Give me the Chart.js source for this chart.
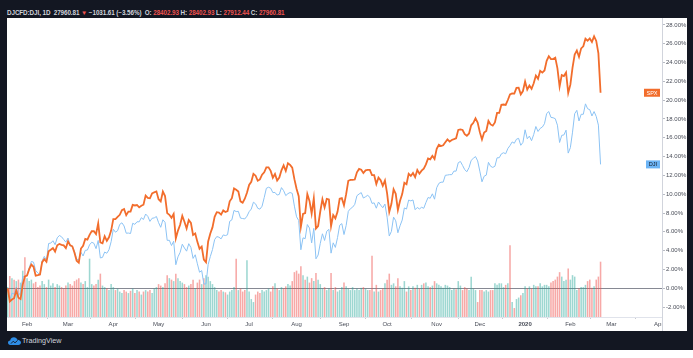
<!DOCTYPE html>
<html>
<head>
<meta charset="utf-8">
<script src="https://cdn.jsdelivr.net/npm/chart.js@4.4.1/dist/chart.umd.min.js"></script>
<style>
  html, body { margin: 0; padding: 0; background: #fff; }
  #frame { position: absolute; left: 0; top: 0; width: 693px; height: 350px; background: #131722; }
  #header { position: absolute; left: 7px; top: 8px; font: bold 6.3px "Liberation Sans", sans-serif; letter-spacing: -0.08px; line-height: 9px; color: #d1d4dc; white-space: nowrap; }
  #header .dn { color: #ef5350; }
  #panel { position: absolute; left: 7px; top: 18px; width: 680px; height: 313px; background: #fff; }
  #footer { position: absolute; left: 8px; top: 336px; height: 10px; color: #d1d4dc; font: 7.2px "Liberation Sans", sans-serif; line-height: 10px; }
  #footer svg { position: absolute; left: 0; top: 1px; }
  #footer span { position: absolute; left: 14px; top: 0; white-space: nowrap; }
</style>
</head>
<body>
<div id="frame">
  <div id="header">DJCFD:DJI, 1D&nbsp; 27960.81 <span class="dn">▼</span> −1031.61 (−3.56%)&nbsp; O: <span class="dn">28402.93</span> H: <span class="dn">28402.93</span> L: <span class="dn">27912.44</span> C: <span class="dn">27960.81</span></div>
  <div id="panel"><canvas id="chart" width="680" height="313"></canvas></div>
  <div id="footer">
    <svg width="13" height="8" viewBox="0 0 13 8"><path d="M2.5 8 C0.8 8 0 6.8 0 5.6 C0 4.3 1 3.4 2.2 3.4 C2.6 1.5 4.1 0.3 5.9 0.3 C7.6 0.3 8.9 1.3 9.4 2.8 C11.4 2.8 13 4.2 13 5.6 C13 7 11.8 8 10.4 8 Z" fill="#2e8de6"/><path d="M3 6.6 L5.2 4.2 L7 5.8 L9.6 3.4" stroke="#131722" stroke-width="0.9" fill="none"/></svg>
    <span>TradingView</span>
  </div>
</div>
<script>
// trading sessions from 18 Jan 2019 (compare base, 0%) to 24 Feb 2020
// change versus the base close, in percent
const spxPct = [
  0, -1.41, -1.20, -1.06, -0.22, -1.00, -1.15, 0.39, 1.25,
  1.34, 2.03, 2.51, 2.28, 1.33, 1.39, 1.46, 2.77, 3.08, 2.81, 3.93, 4.09, 4.27, 3.90, 4.57, 4.70, 4.61, 4.56, 4.26,
  4.98, 4.57, 4.46, 3.77, 2.93, 2.71, 4.22, 4.52, 5.25, 5.16, 5.68, 6.07, 6.06, 5.75, 6.90, 4.87, 4.78, 5.53, 5.04, 5.42, 6.13,
  7.36, 7.36, 7.59, 7.81, 8.31, 8.43, 7.77, 8.15, 8.15, 8.86, 8.80, 8.85, 8.60, 8.77, 8.88, 9.85, 9.61, 9.57, 10.08, 10.20, 10.30,
  9.47, 9.24, 10.29, 9.80, 7.99, 7.81, 7.49, 7.89, 5.29, 6.13, 6.75, 7.70, 7.07, 6.35, 7.25, 6.95, 5.67, 5.82, 4.93, 4.20, 4.43, 3.05,
  2.76, 4.97, 5.82, 6.47, 7.59, 8.09, 8.05, 7.83, 8.27, 8.10, 8.20, 9.25, 9.58, 10.61, 10.48, 10.29, 9.24, 9.10, 9.52, 10.15,
  10.99, 11.32, 12.17, 11.97, 11.43, 11.57, 12.07, 12.33, 12.85, 12.86, 12.48, 11.75, 12.15, 11.45, 11.77, 12.54, 13.06, 12.47, 13.30, 13.12, 12.82, 11.60,
  10.59, 9.79, 6.52, 7.90, 7.99, 10.01, 9.29, 7.94, 9.57, 6.36, 6.62, 8.16, 9.47, 8.60, 9.50, 9.44, 6.60, 7.78, 7.43, 8.13, 9.51, 9.58,
  8.82, 10.00, 11.43, 11.53, 11.52, 11.56, 12.33, 12.69, 12.61, 12.25, 12.54, 12.58, 12.58, 12.03, 12.02, 11.08, 11.76, 11.49, 10.90, 11.46,
  10.09, 8.12, 8.98, 10.53, 10.04, 8.33, 9.31, 10.01, 11.22, 11.06, 12.17, 11.94, 12.25, 11.81, 12.58, 12.18, 12.50, 12.72, 13.17, 13.80, 13.71, 14.08, 13.74,
  14.83, 15.26, 15.12, 15.21, 15.52, 15.82, 15.59, 15.77, 15.85, 15.95, 16.84, 16.90, 16.83, 16.39, 16.21, 16.46, 17.33, 17.59, 18.08, 17.61,
  16.60, 15.82, 16.56, 16.73, 17.79, 17.42, 17.29, 17.63, 18.64, 18.65, 19.50, 19.54, 19.49, 20.02, 20.61, 20.72, 20.70, 21.31, 21.32, 20.62, 20.97,
  21.98, 21.12, 21.55, 21.21, 21.80, 22.62, 22.27, 23.12, 22.93, 23.16, 24.19, 24.67, 24.38, 24.37, 24.52, 23.39, 21.45, 22.67, 22.57, 22.95, 20.77,
  21.65, 23.47, 24.86, 25.28, 24.60, 25.51, 25.73, 26.54, 26.33, 26.57, 26.20, 26.79, 26.30, 24.98, 20.79
];
const djiPct = [
  0, -1.22, -0.53, -0.62, 0.12, -0.72, -0.51, 1.25, 1.19,
  1.45, 2.16, 2.85, 2.77, 1.87, 1.62, 1.40, 2.91, 3.39, 2.97, 4.76, 4.80, 5.05, 4.63, 5.36, 5.61, 5.47, 5.18, 4.90,
  5.34, 4.51, 4.45, 3.91, 3.10, 3.01, 3.82, 3.43, 4.03, 4.06, 4.62, 4.89, 4.78, 4.21, 5.08, 3.22, 3.28, 3.85, 3.72, 4.09, 4.95,
  6.28, 5.96, 6.12, 6.79, 6.96, 6.62, 5.85, 5.87, 5.82, 6.91, 6.79, 7.07, 7.06, 7.50, 7.31, 7.89, 7.65, 7.11, 7.44, 7.48, 7.63,
  6.98, 6.48, 7.28, 7.01, 5.09, 5.10, 4.54, 5.00, 2.50, 3.34, 3.81, 4.68, 4.28, 3.94, 4.74, 4.33, 3.17, 3.56, 2.60, 1.70, 1.88, 0.44,
  0.46, 2.53, 3.37, 4.11, 5.17, 5.49, 5.43, 5.25, 5.67, 5.60, 5.69, 7.12, 7.27, 8.28, 8.15, 8.18, 7.46, 7.41, 7.37, 7.66,
  8.14, 8.42, 9.15, 8.97, 8.50, 8.41, 8.72, 9.64, 10.63, 10.74, 10.64, 10.17, 10.19, 9.91, 9.98, 10.70, 10.38, 9.85, 10.06, 10.18, 10.09, 8.73,
  7.60, 7.20, 4.09, 5.36, 5.27, 6.77, 6.40, 4.82, 6.37, 3.13, 3.53, 4.77, 5.79, 5.08, 6.06, 6.26, 3.73, 4.83, 4.34, 5.38, 6.70, 6.87,
  5.71, 6.67, 8.18, 8.46, 8.62, 8.92, 9.84, 10.02, 10.17, 9.59, 9.73, 9.88, 9.67, 9.02, 9.08, 8.51, 9.17, 8.84, 8.56, 8.95,
  7.56, 5.55, 6.05, 7.56, 7.17, 5.90, 6.64, 7.25, 8.54, 8.42, 9.38, 9.29, 9.39, 8.35, 8.59, 8.43, 8.61, 8.50, 9.11, 9.65, 9.57, 10.04, 9.47,
  10.69, 11.15, 11.28, 11.28, 12.01, 12.04, 12.08, 12.08, 12.46, 12.45, 13.35, 13.48, 13.06, 12.61, 12.39, 12.83, 13.60, 13.82, 14.00, 13.54,
  12.45, 11.32, 11.91, 12.03, 13.39, 12.97, 12.85, 12.97, 13.87, 13.88, 14.29, 14.41, 14.30, 14.86, 15.17, 15.56, 15.42, 15.85, 15.94, 15.20, 15.51,
  16.85, 15.90, 16.18, 15.69, 16.35, 17.20, 16.67, 17.00, 17.14, 17.50, 18.58, 18.79, 18.17, 18.13, 18.03, 17.34, 15.50, 16.26, 16.30, 16.81, 14.37,
  14.95, 16.60, 18.56, 18.92, 17.79, 18.50, 18.50, 19.61, 19.09, 18.99, 18.32, 18.79, 18.27, 17.35, 13.17
];
// volume of the main symbol (relative units)
const volume = [
  40, 55, 52, 50, 48, 50, 46, 62, 80,
  52, 48, 50, 45, 47, 40, 42, 48, 44, 40, 50, 42, 45, 40, 44, 42, 40, 38, 42,
  46, 44, 42, 48, 50, 52, 46, 44, 48, 40, 78, 44, 42, 44, 50, 58, 42, 40, 38, 36, 44,
  40, 36, 38, 34, 32, 36, 34, 32, 35, 38, 32, 36, 34, 30, 34, 36, 34, 36, 32, 38, 40,
  44, 42, 40, 45, 56, 52, 50, 48, 58, 52, 48, 46, 44, 40, 42, 44, 50, 38, 46, 50, 44, 52,
  56, 54, 48, 44, 40, 36, 34, 36, 34, 33, 30, 34, 36, 40, 78, 36, 38, 34, 36, 76,
  34, 24, 20, 30, 34, 32, 36, 34, 36, 38, 34, 41, 45, 38, 36, 40, 38, 41, 44, 42, 48, 60,
  62, 58, 68, 56, 50, 54, 46, 52, 48, 59, 50, 44, 38, 40, 36, 38, 59, 36, 40, 34, 36, 40,
  46, 41, 38, 36, 40, 36, 38, 36, 39, 40, 38, 36, 36, 82, 34, 43, 34, 36, 38, 45,
  50, 58, 43, 45, 41, 52, 41, 39, 48, 34, 41, 36, 41, 39, 43, 38, 43, 45, 46, 41, 40, 42, 48,
  45, 43, 41, 39, 43, 42, 40, 36, 38, 37, 48, 42, 36, 40, 38, 36, 54, 38, 36, 20,
  36, 36, 34, 36, 34, 36, 36, 45, 43, 45, 45, 40, 43, 45, 96, 20, 12, 24, 26, 29, 32,
  41, 38, 41, 38, 43, 41, 41, 45, 41, 43, 43, 41, 46, 48, 50, 54, 60, 54, 48, 50, 65,
  50, 56, 54, 36, 38, 40, 40, 43, 48, 50, 39, 41, 50, 54, 74
];
// sessions whose volume bar is drawn red although the close was up (closed below its open)
const redOnUpClose = [233];

// session index of the first session of each month, and its label
const monthTicks = [9, 28, 49, 70, 92, 112, 134, 156, 176, 199, 219, 240, 261, 280, 302];
const monthLabels = ['Feb', 'Mar', 'Apr', 'May', 'Jun', 'Jul', 'Aug', 'Sep', 'Oct', 'Nov', 'Dec', '2020', 'Feb', 'Mar', 'Apr'];
const priceTicks = [-2, 0, 2, 4, 6, 8, 10, 12, 14, 16, 18, 20, 22, 24, 26, 28];

const spxColor = '#f26d2c';
const djiColor = '#8cc3f4';
const upVol = 'rgba(38,166,154,0.45)';
const downVol = 'rgba(239,83,80,0.5)';

const volColors = volume.map((v, i) => {
  const up = i === 0 || djiPct[i] >= djiPct[i - 1];
  return (up && !redOnUpClose.includes(i)) ? upVol : downVol;
});

// last-value tags next to the price scale, and clipping of the time labels
const lastTags = {
  id: 'lastTags',
  afterDraw(chart) {
    const ctx = chart.ctx;
    const area = chart.chartArea;
    const y = chart.scales.y;
    ctx.save();
    ctx.fillStyle = '#fff';
    ctx.fillRect(area.right + 0.5, area.bottom + 0.5, chart.width - area.right, chart.height - area.bottom);
    ctx.strokeStyle = '#d1d4dc';
    ctx.lineWidth = 1;
    ctx.beginPath();
    ctx.moveTo(area.right + 0.5, 0);
    ctx.lineTo(area.right + 0.5, chart.height);
    ctx.stroke();

    const tags = [
      { text: 'SPX', value: spxPct[spxPct.length - 1], bg: spxColor, fg: '#fff', w: 16 },
      { text: 'DJI', value: djiPct[djiPct.length - 1], bg: '#6cb4f5', fg: '#131722', w: 14 }
    ];
    ctx.font = '5.6px "Liberation Sans", sans-serif';
    ctx.textAlign = 'center';
    ctx.textBaseline = 'middle';
    tags.forEach(t => {
      const py = y.getPixelForValue(t.value);
      const x1 = area.right - 2;
      ctx.fillStyle = t.bg;
      ctx.fillRect(x1 - t.w, py - 4, t.w, 8);
      ctx.fillStyle = t.fg;
      ctx.fillText(t.text, x1 - t.w / 2, py + 0.5);
    });
    ctx.restore();
  }
};

Chart.defaults.font.family = '"Liberation Sans", sans-serif';
Chart.defaults.font.size = 6;

new Chart(document.getElementById('chart'), {
  type: 'line',
  data: {
    datasets: [
      {
        type: 'line',
        label: 'SPX',
        data: spxPct.map((v, i) => ({ x: i, y: v })),
        borderColor: spxColor,
        borderWidth: 1.8,
        pointRadius: 0,
        tension: 0,
        yAxisID: 'y',
        order: 1
      },
      {
        type: 'line',
        label: 'DJI',
        data: djiPct.map((v, i) => ({ x: i, y: v })),
        borderColor: djiColor,
        borderWidth: 1,
        pointRadius: 0,
        tension: 0,
        yAxisID: 'y',
        order: 2
      },
      {
        type: 'bar',
        label: 'Volume',
        data: volume.map((v, i) => ({ x: i, y: v })),
        backgroundColor: volColors,
        borderWidth: 0,
        barPercentage: 1,
        categoryPercentage: 0.72,
        yAxisID: 'yv',
        order: 3
      }
    ]
  },
  options: {
    responsive: false,
    animation: false,
    devicePixelRatio: 1,
    layout: { padding: 0 },
    plugins: { legend: { display: false }, tooltip: { enabled: false } },
    scales: {
      x: {
        type: 'linear',
        min: -0.3,
        max: 303.5,
        offset: false,
        afterBuildTicks: scale => { scale.ticks = monthTicks.map(v => ({ value: v })); },
        afterFit: scale => { scale.height = 14; scale.paddingLeft = 0; scale.paddingRight = 0; },
        grid: { drawOnChartArea: false, tickLength: 2, tickColor: '#c8cad0' },
        border: { color: '#e0e3eb' },
        ticks: {
          autoSkip: false,
          maxRotation: 0,
          padding: 2,
          color: '#4a4e59',
          font: ctx => ({ size: 6, weight: ctx.tick && ctx.tick.label === '2020' ? 'bold' : 'normal' }),
          callback: (v, i) => monthLabels[i]
        }
      },
      y: {
        type: 'linear',
        position: 'right',
        min: -3.06,
        max: 28.74,
        z: 1,
        afterBuildTicks: scale => { scale.ticks = priceTicks.map(v => ({ value: v })); },
        afterFit: scale => { scale.width = 25; scale.paddingTop = 0; scale.paddingBottom = 0; },
        grid: {
          drawOnChartArea: true,
          color: ctx => (ctx.tick && ctx.tick.value === 0) ? '#868993' : 'rgba(0,0,0,0)',
          tickLength: 3,
          tickColor: '#b8bbc3'
        },
        border: { color: '#d1d4dc' },
        ticks: {
          padding: 1,
          color: '#4a4e59',
          callback: v => v.toFixed(2) + '%'
        }
      },
      yv: {
        type: 'linear',
        display: false,
        min: 0,
        max: 400
      }
    }
  },
  plugins: [lastTags]
});
</script>
</body>
</html>
